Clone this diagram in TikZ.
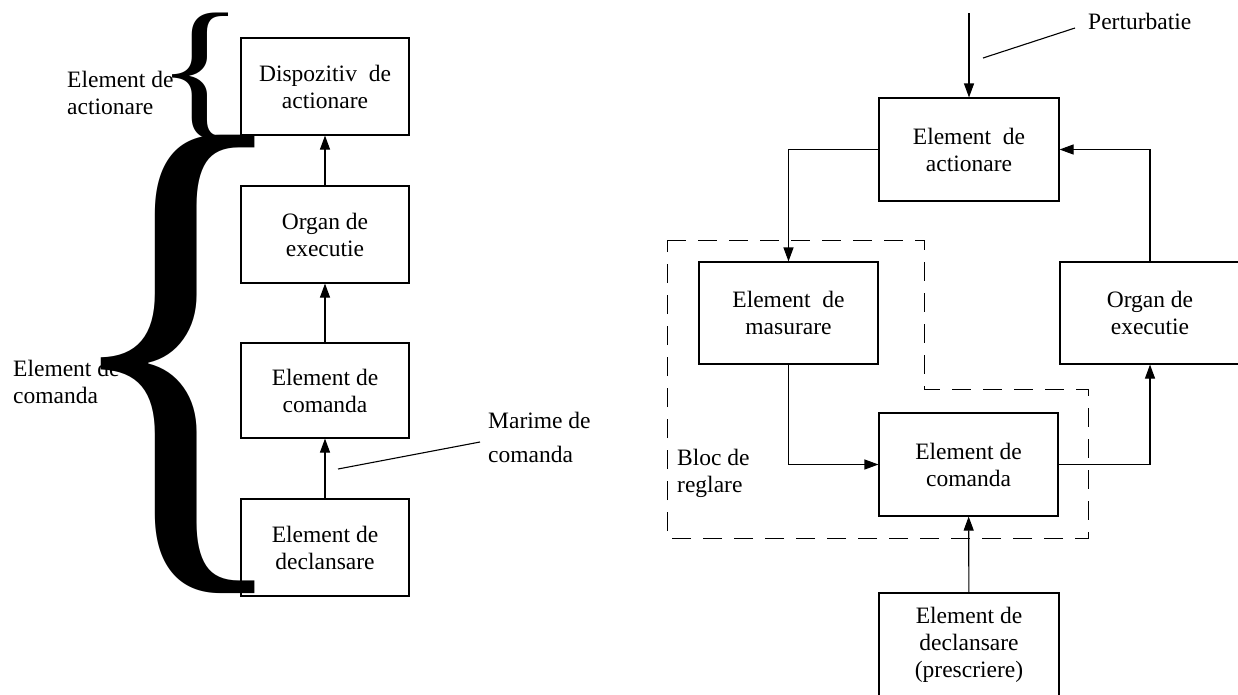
\documentclass[tikz,border=0pt]{standalone}
\usepackage{graphicx}
\usepackage{fontspec}
\setmainfont{Liberation Serif}
\usetikzlibrary{arrows.meta}
\begin{document}
\begin{tikzpicture}[x=1pt,y=-1pt,
  bloc/.style={draw,line width=1.1pt,align=center,inner sep=0pt,font=\fontsize{23.5}{27}\selectfont},
  lbl/.style={align=left,anchor=west,inner sep=0pt,font=\fontsize{23.5}{27}\selectfont},
  arr/.style={line width=1.1pt,-{Triangle[length=14pt,width=10pt]}},
  fir/.style={line width=1.1pt}]
\path[use as bounding box,clip] (0,0) rectangle (1238,694);
% left column
\node[bloc,minimum width=168pt,minimum height=97pt] (disp) at (325,86.5) {Dispozitiv\ \ de\\actionare};
\node[bloc,minimum width=168pt,minimum height=97pt] (org1) at (325,234.5) {Organ de\\executie};
\node[bloc,minimum width=168pt,minimum height=95pt] (com1) at (325,390.5) {Element de\\comanda};
\node[bloc,minimum width=168pt,minimum height=97pt] (decl1) at (325,547.5) {Element de\\declansare};
\draw[arr] (decl1) -- (com1);
\draw[arr] (com1) -- (org1);
\draw[arr] (org1) -- (disp);
\node[lbl] (mrm) at (488,437.5) {Marime de\\[7pt]comanda};
\coordinate (mrm1) at (338,469); \coordinate (mrm2) at (480,442);
\draw[fir] (mrm1) -- (mrm2);
\node[lbl] (eact) at (67,92.5) {Element de\\actionare};
\node[lbl] (ecom) at (13,381.5) {Element de\\comanda};
\node[anchor=north west,inner sep=0pt] (acsm) at (155,13) {\resizebox*{90pt}{127pt}{\{}};
\node[anchor=north west,inner sep=0pt] (acbg) at (54,135) {\resizebox*{247pt}{457pt}{\{}};
% right side
\draw[line width=1pt,dash pattern=on 19pt off 12pt] (667,240) -- (924,240) -- (924,389) -- (1088,389) -- (1088,538) -- (667,538) -- cycle;
\node[lbl] (bloc) at (677,473.5) {Bloc de\\reglare};
\node[bloc,minimum width=180pt,minimum height=103pt] (act) at (969,149.5) {Element\ \ de\\actionare};
\node[bloc,minimum width=179pt,minimum height=102pt] (mas) at (788.5,313) {Element\ \ de\\masurare};
\node[bloc,minimum width=180pt,minimum height=102pt] (org) at (1150,313) {Organ de\\executie};
\node[bloc,minimum width=179pt,minimum height=103pt] (com) at (968.5,464.5) {Element de\\comanda};
\node[bloc,minimum width=180pt,minimum height=103pt] (dec) at (969,644.5) {Element de\\declansare\\(prescriere)};
\node[lbl] (pert) at (1088,21) {Perturbatie};
\coordinate (pin) at (969,13);
\draw[arr] (pin) -- (act);
\coordinate (prt1) at (983,58); \coordinate (prt2) at (1075,28);
\draw[fir] (prt1) -- (prt2);
\draw[arr] (act.west) -| (mas.north);
\draw[arr] (org.north) |- (act.east);
\draw[arr] (mas.south) |- (com.west);
\draw[arr] (com.east) -| (org.south);
\draw[arr] (dec) -- (com);
\end{tikzpicture}
\end{document}
